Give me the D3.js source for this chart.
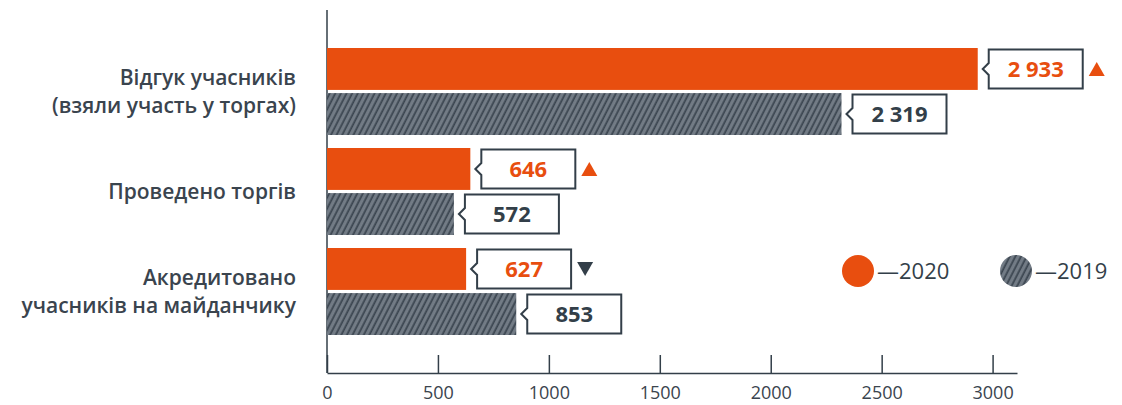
<!DOCTYPE html>
<html>
<head>
<meta charset="utf-8">
<script src="https://cdn.jsdelivr.net/npm/d3@7"></script>
<style>
  body { margin: 0; background: #fff; }
  svg { display: block; font-family: "Open Sans", "Lato", sans-serif; }
</style>
</head>
<body>
<svg id="chart"></svg>
<script>
// data
const categories = ["Відгук учасників\n(взяли участь у торгах)", "Проведено торгів", "Акредитовано\nучасників на майданчику"];
const years = ["2020", "2019"];
const values2020 = [2933, 646, 627];
const values2019 = [2319, 572, 853];
const valueLabels2020 = ["2 933", "646", "627"];
const valueLabels2019 = ["2 319", "572", "853"];
const tickValues = [0, 500, 1000, 1500, 2000, 2500, 3000];

const width = 1122, height = 405;
const orange = "#e84e0f", dark = "#333f49";

const svg = d3.select("#chart").attr("width", width).attr("height", height);

// pattern for 2019
const defs = svg.append("defs");
const pat = defs.append("pattern")
    .attr("id", "hatch")
    .attr("patternUnits", "userSpaceOnUse")
    .attr("width", 5).attr("height", 5)
    .attr("patternTransform", "rotate(27)");
pat.append("rect").attr("width", 5).attr("height", 5).attr("fill", "#737c86");
pat.append("line").attr("x1", 1.2).attr("y1", 0).attr("x2", 1.2).attr("y2", 5)
    .attr("stroke", "#3b4550").attr("stroke-width", 1.8);

// scales
const x = d3.scaleLinear().domain([0, 3110]).range([327, 1017]);
const y = d3.scaleBand().domain(categories).range([41.5, 341.5])
    .paddingInner(0.13).paddingOuter(0.065);
const yInner = d3.scaleBand().domain(years).range([0, y.bandwidth()]).paddingInner(0.07);

// axes
const xAxis = svg.append("g")
    .attr("transform", "translate(0,373)")
    .call(d3.axisBottom(x).tickValues(tickValues).tickSize(-18).tickSizeOuter(0).tickFormat(d3.format("d")));
xAxis.select(".domain").attr("stroke", dark).attr("stroke-width", 1.5);
xAxis.selectAll(".tick line").attr("stroke", dark).attr("stroke-width", 1.5);
xAxis.selectAll(".tick text")
    .attr("y", 13).attr("dy", "0.71em")
    .attr("fill", "#3a444e").attr("font-size", 18)
    .attr("font-family", "'Open Sans', sans-serif");

svg.append("line")
    .attr("x1", x(0)).attr("x2", x(0))
    .attr("y1", 10).attr("y2", 373)
    .attr("stroke", dark).attr("stroke-width", 1.5);

// category labels
categories.forEach(c => {
    const lines = c.split("\n");
    const cy = y(c) + y.bandwidth() / 2;
    const t = svg.append("text")
        .attr("x", 296)
        .attr("text-anchor", "end")
        .attr("fill", "#3a444e")
        .attr("font-size", 21)
        .attr("font-weight", 600);
    lines.forEach((l, i) => {
        t.append("tspan")
            .attr("x", 296)
            .attr("y", cy + (i - (lines.length - 1) / 2) * 27.5)
            .attr("dy", "0.35em")
            .text(l);
    });
});

// bars + callouts
const series = [
    { year: "2020", vals: values2020, labels: valueLabels2020, fill: orange, text: orange },
    { year: "2019", vals: values2019, labels: valueLabels2019, fill: "url(#hatch)", text: dark }
];

series.forEach(s => {
    const g = svg.append("g");
    categories.forEach((c, i) => {
        const v = s.vals[i];
        const top = y(c) + yInner(s.year);
        const bh = yInner.bandwidth();
        const cy = top + bh / 2;
        g.append("rect")
            .attr("x", x(0)).attr("y", top)
            .attr("width", x(v) - x(0)).attr("height", bh)
            .attr("fill", s.fill);

        // callout box with notch
        const bx = x(v) + 11, bw = 94, h = 39;
        const t0 = cy - h / 2, t1 = cy + h / 2;
        g.append("path")
            .attr("d", `M${bx},${t0} H${bx + bw} V${t1} H${bx} V${cy + 6} L${bx - 6},${cy} L${bx},${cy - 6} Z`)
            .attr("fill", "#fff").attr("stroke", dark).attr("stroke-width", 2);
        g.append("text")
            .attr("x", bx + bw / 2).attr("y", cy).attr("dy", "0.36em")
            .attr("text-anchor", "middle")
            .attr("font-size", 22).attr("font-weight", 700)
            .attr("fill", s.text)
            .text(s.labels[i]);

        // change triangle
        if (s.year === "2020") {
            const up = v > values2019[i];
            const tx = bx + bw + 14, ts = 8;
            const d = up
                ? `M${tx - ts},${cy + 7} L${tx + ts},${cy + 7} L${tx},${cy - 7} Z`
                : `M${tx - ts},${cy - 7} L${tx + ts},${cy - 7} L${tx},${cy + 7} Z`;
            g.append("path").attr("d", d).attr("fill", up ? orange : dark);
        }
    });
});

// legend
const legend = [
    { label: "—2020", fill: orange, x: 858 },
    { label: "—2019", fill: "url(#hatch)", x: 1016 }
];
legend.forEach(l => {
    svg.append("circle").attr("cx", l.x).attr("cy", 271).attr("r", 16).attr("fill", l.fill);
    svg.append("text")
        .attr("x", l.x + 19).attr("y", 271).attr("dy", "0.36em")
        .attr("font-size", 22).attr("fill", dark)
        .text(l.label);
});
</script>
</body>
</html>
